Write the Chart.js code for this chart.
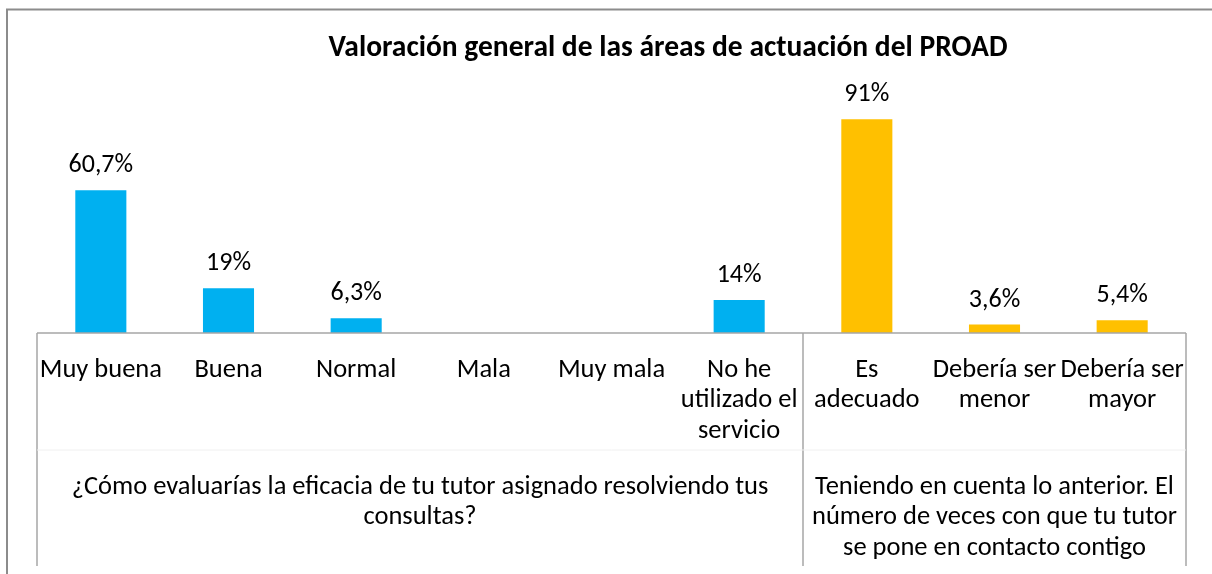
<!DOCTYPE html>
<html>
<head>
<meta charset="utf-8">
<script src="https://cdn.jsdelivr.net/npm/chart.js@4.4.1/dist/chart.umd.min.js"></script>
<style>
  html, body { margin: 0; padding: 0; background: #fff; }
  #wrap { width: 1212px; height: 574px; position: relative; }
</style>
</head>
<body>
<div id="wrap"><canvas id="grafico" width="1212" height="574"></canvas></div>
<script>
// Datos de la encuesta
var categorias = [
    "Muy buena", "Buena", "Normal", "Mala", "Muy mala",
    ["No he", "utilizado el", "servicio"],
    ["Es", "adecuado"],
    ["Debería ser", "menor"],
    ["Debería ser", "mayor"]
];
var grupoDe = [0, 0, 0, 0, 0, 0, 1, 1, 1];
var valores = [60.7, 19, 6.3, null, null, 14, 91, 3.6, 5.4];
var preguntas = [
    ["¿Cómo evaluarías la eficacia de tu tutor asignado resolviendo tus", "consultas?"],
    ["Teniendo en cuenta lo anterior. El", "número de veces con que tu tutor", "se pone en contacto contigo"]
];
var titulo = "Valoración general de las áreas de actuación del PROAD";

var coloresGrupo = ["#00B0F0", "#FFC000"];
var fuente = "Carlito, Lato, 'Liberation Sans', sans-serif";

// etiquetas, ejes de grupo, titulo y marco
var extras = {
    id: "extras",
    afterDraw: function (chart) {
        var c = chart.ctx;
        var area = chart.chartArea;
        var xs = chart.scales.x;
        var paso = xs.getPixelForTick(1) - xs.getPixelForTick(0);

        c.save();
        // marco exterior
        c.strokeStyle = "#8c8c8c";
        c.lineWidth = 2;
        c.beginPath();
        c.moveTo(7, 600);
        c.lineTo(7, 9.5);
        c.lineTo(1214, 9.5);
        c.stroke();

        // titulo
        c.fillStyle = "#000";
        c.font = "bold 29.5px " + fuente;
        c.textAlign = "center";
        c.textBaseline = "alphabetic";
        c.fillText(titulo, 668, 56);

        // valores sobre las barras
        c.font = "26px " + fuente;
        var meta = chart.getDatasetMeta(0);
        meta.data.forEach(function (bar, i) {
            var v = valores[i];
            if (v === null) return;
            var txt = String(v).replace(".", ",") + "%";
            c.fillText(txt, bar.x, bar.y - 18);
        });

        // linea del eje y separadores de grupo
        var bordes = [0];
        for (var i = 1; i < grupoDe.length; i++) {
            if (grupoDe[i] !== grupoDe[i - 1]) bordes.push(i);
        }
        bordes.push(grupoDe.length);
        var abajo = 566;
        c.strokeStyle = "#a6a6a6";
        c.lineWidth = 1.5;
        c.beginPath();
        c.moveTo(area.left, area.bottom);
        c.lineTo(area.right, area.bottom);
        bordes.forEach(function (b) {
            var x = xs.getPixelForTick(0) - paso / 2 + b * paso;
            c.moveTo(x, area.bottom);
            c.lineTo(x, abajo);
        });
        c.stroke();

        // linea tenue entre niveles
        c.strokeStyle = "#f0f0f0";
        c.lineWidth = 1;
        c.beginPath();
        c.moveTo(area.left, area.bottom + 117);
        c.lineTo(area.right, area.bottom + 117);
        c.stroke();

        // preguntas de cada grupo
        c.fillStyle = "#000";
        c.font = "26.5px " + fuente;
        c.textBaseline = "middle";
        for (var g = 0; g < preguntas.length; g++) {
            var x0 = xs.getPixelForTick(0) - paso / 2 + bordes[g] * paso;
            var x1 = xs.getPixelForTick(0) - paso / 2 + bordes[g + 1] * paso;
            preguntas[g].forEach(function (linea, k) {
                c.fillText(linea, (x0 + x1) / 2, area.bottom + 154 + k * 30.5);
            });
        }
        c.restore();
    }
};

var ctx = document.getElementById("grafico").getContext("2d");
var chart = new Chart(ctx, {
    type: "bar",
    data: {
        labels: categorias,
        datasets: [{
            data: valores,
            backgroundColor: grupoDe.map(function (g) { return coloresGrupo[g]; }),
            barPercentage: 0.4,
            categoryPercentage: 1.0
        }]
    },
    options: {
        responsive: false,
        animation: false,
        layout: { padding: { left: 37, right: 26, top: 98, bottom: 0 } },
        plugins: {
            legend: { display: false },
            tooltip: { enabled: false },
            title: { display: false }
        },
        scales: {
            x: {
                grid: { display: false, drawTicks: false },
                border: { display: false },
                ticks: {
                    color: "#000",
                    font: { family: fuente, size: 26.5, lineHeight: 1.15 },
                    padding: 22,
                    autoSkip: false,
                    maxRotation: 0
                },
                afterFit: function (scale) { scale.height = 241; }
            },
            y: {
                display: false,
                min: 0,
                max: 100
            }
        }
    },
    plugins: [extras]
});
</script>
</body>
</html>
